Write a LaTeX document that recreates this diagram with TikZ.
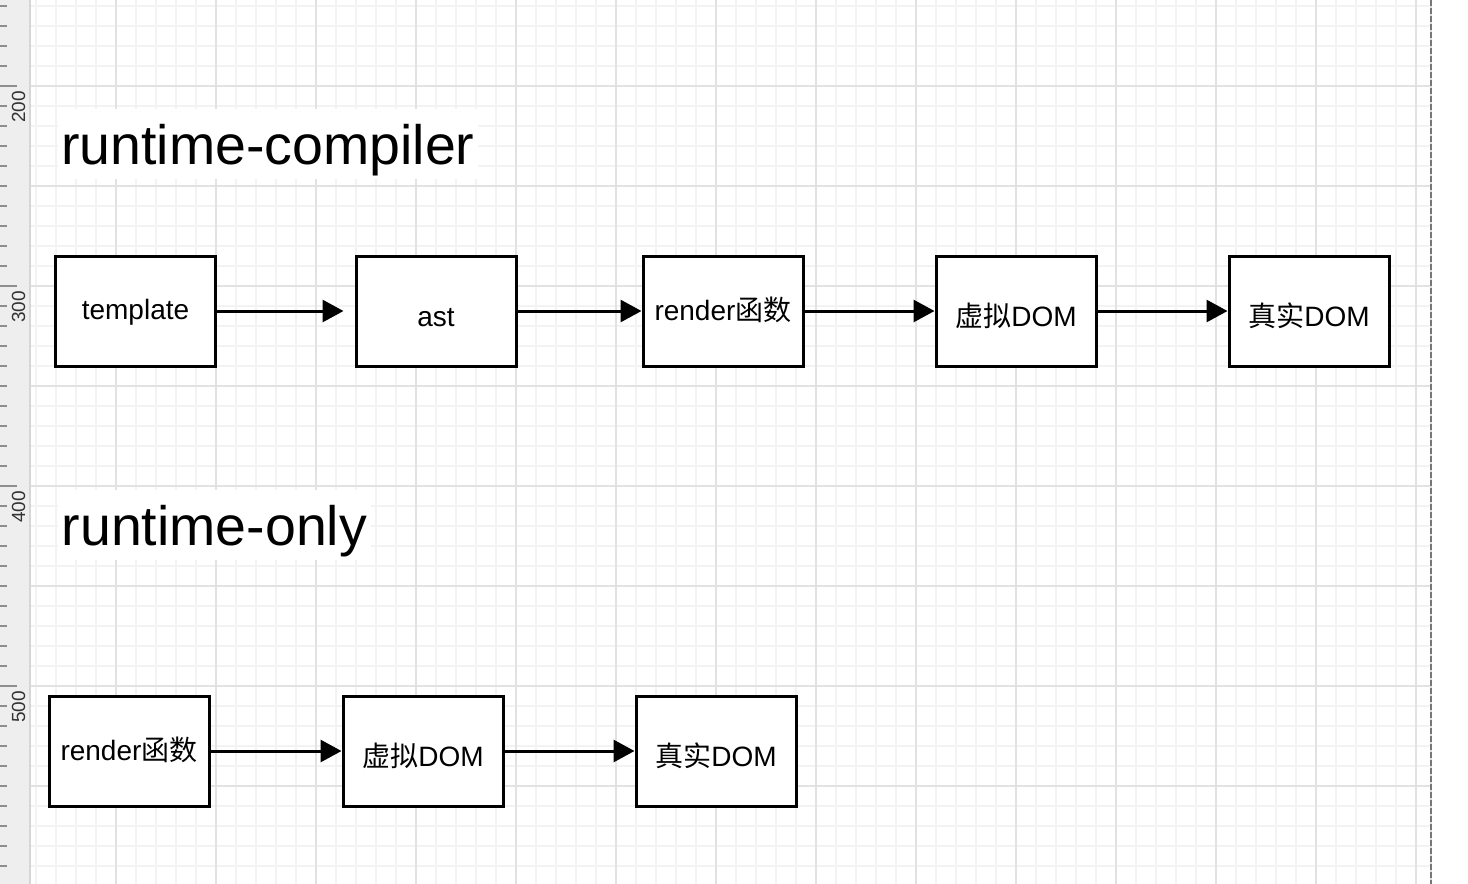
\documentclass[tikz,border=0pt]{standalone}
\usepackage{fontspec}
\setmainfont{Liberation Sans}
\newfontfamily\cjk{Noto Sans CJK SC}
\usetikzlibrary{arrows.meta}
\definecolor{minorgrid}{HTML}{F3F3F3}
\definecolor{majorgrid}{HTML}{E2E2E2}
\definecolor{rulerbg}{HTML}{EEEEEE}
\definecolor{rulerline}{HTML}{D6D6D6}
\definecolor{tickcol}{HTML}{8E8E8E}
\definecolor{rulertext}{HTML}{333333}
\definecolor{pagedash}{HTML}{777777}
\definecolor{pagegap}{HTML}{DDDDDD}
\begin{document}
\begin{tikzpicture}[x=1pt,y=-1pt,
  box/.style={draw=black, line width=3pt, fill=white, minimum width=160pt, minimum height=110pt, inner sep=0pt},
  lab/.style={anchor=base, inner sep=0pt, font=\fontsize{28}{34}\selectfont},
  title/.style={anchor=base west, fill=white, inner xsep=3.5pt, inner ysep=0pt, text height=55pt, text depth=15pt, font=\fontsize{55.5}{66}\selectfont},
  flow/.style={line width=3pt, -{Triangle[length=21pt,width=22pt]}},
  minorline/.style={draw=minorgrid, line width=1.5pt},
  majorline/.style={draw=majorgrid, line width=2pt},
  rulernum/.style={rotate=90, inner sep=0pt, text=rulertext, font=\fontsize{19}{22}\selectfont},
]
\useasboundingbox (0,0) rectangle (1468,884);
\fill[white] (0,0) rectangle (1468,884);

% grid
\foreach \x in {36,56,...,1416} \draw[minorline] (\x,0) -- (\x,884);
\foreach \y in {6,26,...,866} \draw[minorline] (30,\y) -- (1430,\y);
\foreach \x in {116,216,...,1416} \draw[majorline] (\x,0) -- (\x,884);
\foreach \y in {86,186,...,786} \draw[majorline] (30,\y) -- (1430,\y);

% ruler
\fill[rulerbg] (0,0) rectangle (29,884);
\draw[rulerline, line width=2pt] (29.5,0) -- (29.5,884);
\foreach \y in {6,26,...,866} \draw[tickcol, line width=1.3pt] (0,\y) -- (7,\y);
\foreach \y/\v in {86/200,286/300,486/400,686/500} {
  \draw[tickcol, line width=1.3pt] (0,\y) -- (17,\y);
  \node[rulernum] at (18.5,\y+21) {\v};
}

% page border
\draw[pagegap, line width=2pt] (1430.5,0) -- (1430.5,884);
\draw[pagedash, line width=2pt, dash pattern=on 6pt off 2pt] (1430.5,0) -- (1430.5,884);

% titles
\node[title] (t1) at (57.5,164) {runtime-compiler};
\node[title] (t2) at (58,545) {runtime-only};

% top row
\node[box] (a1) at (135.5,311) {};
\node[box] (a2) at (436,311) {};
\node[box] (a3) at (723,311) {};
\node[box] (a4) at (1016,311) {};
\node[box] (a5) at (1309,311) {};
\node[lab] (la1) at ([yshift=-8pt]a1.center) {template};
\node[lab] (la2) at ([yshift=-15pt]a2.center) {ast};
\node[lab] (la3) at ([yshift=-9pt]a3.center) {render{\cjk 函数}};
\node[lab] (la4) at ([yshift=-15pt]a4.center) {{\cjk 虚拟}DOM};
\node[lab] (la5) at ([yshift=-15pt]a5.center) {{\cjk 真实}DOM};
\draw[flow, shorten >=11pt] (a1.east) -- (a2.west);
\draw[flow] (a2.east) -- (a3.west);
\draw[flow] (a3.east) -- (a4.west);
\draw[flow] (a4.east) -- (a5.west);

% bottom row
\node[box] (b1) at (129,751) {};
\node[box] (b2) at (423,751) {};
\node[box] (b3) at (716,751) {};
\node[lab] (lb1) at ([yshift=-9pt]b1.center) {render{\cjk 函数}};
\node[lab] (lb2) at ([yshift=-15pt]b2.center) {{\cjk 虚拟}DOM};
\node[lab] (lb3) at ([yshift=-15pt]b3.center) {{\cjk 真实}DOM};
\draw[flow] (b1.east) -- (b2.west);
\draw[flow] (b2.east) -- (b3.west);
\end{tikzpicture}
\end{document}
